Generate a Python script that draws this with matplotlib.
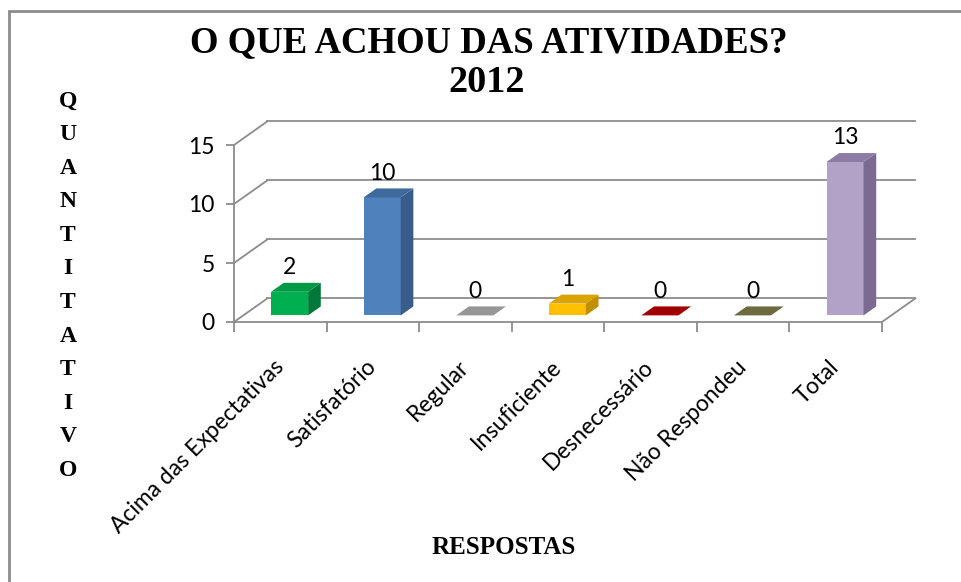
import numpy as np
import matplotlib
matplotlib.use("Agg")
import matplotlib.pyplot as plt
from matplotlib.patches import Polygon, Rectangle

# data
categorias = ['Acima das Expectativas', 'Satisfatório', 'Regular', 'Insuficiente',
              'Desnecessário', 'Não Respondeu', 'Total']
valores = [2, 10, 0, 1, 0, 0, 13]
yticks = [0, 5, 10, 15]

cor_frente = ['#00B050', '#4F81BD', '#A6A6A6', '#FFC000', '#C00000', '#7F7B4A', '#B3A2C7']
cor_lado = ['#00783A', '#385D8A', '#7F7F7F', '#BF9000', '#8B0000', '#5C5935', '#7B6A92']
cor_topo = ['#009A46', '#3F6A9E', '#969696', '#D9A300', '#A00000', '#6E6A40', '#8D7BA6']

# 3d look (depth of the wall / bar in data units)
DX, DY = 0.36, 2.0
f0, fd = 0.28, 0.38
larg = 0.4
grid_cor = '#8C8C8C'

fig = plt.figure(figsize=(9.61, 5.82), dpi=100)
W, H = 961.0, 582.0
px_x, px_y = 92.57, 11.8
ax = fig.add_axes([234 / W, (H - 322) / H, 7.5 * px_x / W, 17.5 * px_y / H])
ax.set_xlim(-0.5, 7.0)
ax.set_ylim(0, 17.5)

for s in ['top', 'right']:
    ax.spines[s].set_visible(False)
ax.spines['bottom'].set_bounds(-0.5, 6.5)
ax.spines['left'].set_bounds(0, 15)
for s in ['left', 'bottom']:
    ax.spines[s].set_color(grid_cor)
    ax.spines[s].set_linewidth(1.3)

# back wall grid + left wall diagonals
xr = 6.5 + DX
for t in yticks:
    ax.plot([-0.5 + DX, xr], [t + DY, t + DY], color=grid_cor, lw=1.3, zorder=1, clip_on=False)
    ax.plot([-0.5, -0.5 + DX], [t, t + DY], color=grid_cor, lw=1.3, zorder=1, clip_on=False)
# floor right edge
ax.plot([6.5, xr], [0, DY], color=grid_cor, lw=1.3, zorder=1, clip_on=False)

# y ticks
ax.set_yticks(yticks)
ax.tick_params(axis='y', length=6, width=1.3, color=grid_cor, pad=8, labelsize=16.5)

# x ticks: boundaries as minor ticks, names at centres
x = np.arange(len(categorias))
ax.set_xticks(x)
ax.set_xticklabels(categorias)
ax.set_xticks(np.arange(-0.5, 7.0, 1.0), minor=True)
ax.tick_params(axis='x', which='major', length=0, pad=30, labelsize=16.5)
ax.tick_params(axis='x', which='minor', length=7, width=1.3, color=grid_cor)
for lab in ax.get_xticklabels():
    lab.set_rotation(45)
    lab.set_ha('right')
    lab.set_va('center')
    lab.set_rotation_mode('anchor')
for lab in ax.get_xticklabels() + ax.get_yticklabels():
    lab.set_fontfamily('Lato')

# bars
fx, fy = f0 * DX, f0 * DY
bdx, bdy = fd * DX, fd * DY
for i, v in enumerate(valores):
    x0 = i - larg / 2 + fx
    x1 = x0 + larg
    if v > 0:
        ax.bar(i + fx, v, width=larg, bottom=fy, color=cor_frente[i], zorder=3)
        lado = Polygon([(x1, fy), (x1, fy + v), (x1 + bdx, fy + v + bdy), (x1 + bdx, fy + bdy)],
                       closed=True, facecolor=cor_lado[i], edgecolor='none', zorder=3)
        ax.add_patch(lado)
    topo = Polygon([(x0, fy + v), (x1, fy + v), (x1 + bdx, fy + v + bdy), (x0 + bdx, fy + v + bdy)],
                   closed=True, facecolor=cor_topo[i], edgecolor='none', zorder=3)
    ax.add_patch(topo)
    ax.annotate(str(v), xy=(i + fx, fy + v), xytext=(0, 17.5), textcoords='offset points',
                ha='center', va='center', fontsize=16.5, family='Lato', zorder=4)

# titles
fig.text(489 / W, 1 - 52 / H, 'O QUE ACHOU DAS ATIVIDADES?', ha='center', va='baseline',
         fontsize=26.5, fontweight='bold', family='Liberation Serif')
fig.text(487 / W, 1 - 92 / H, '2012', ha='center', va='baseline',
         fontsize=27.5, fontweight='bold', family='Liberation Serif')
fig.text(504 / W, 1 - 554 / H, 'RESPOSTAS', ha='center', va='baseline',
         fontsize=18, fontweight='bold', family='Liberation Serif')

ylab = 'QUANTITATIVO'
for k, c in enumerate(ylab):
    fig.text(68 / W, 1 - (101 + k * 33.6) / H, c, ha='center', va='center',
             fontsize=17, fontweight='bold', family='Liberation Serif')

# outer border
fig.patches.append(Rectangle((9 / W, -0.05), 1.1, 1 - 11 / H + 0.05, transform=fig.transFigure,
                             fill=False, edgecolor='#8C8C8C', lw=2))

fig.savefig('out.png', dpi=100)
